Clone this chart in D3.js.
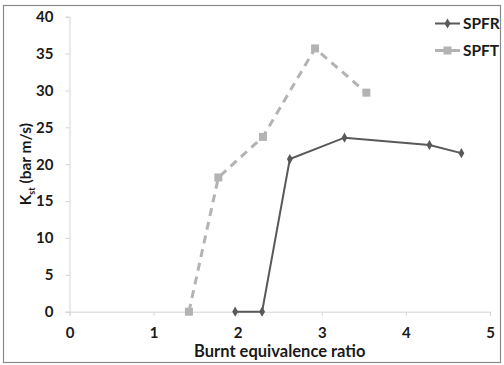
<!DOCTYPE html>
<html>
<head>
<meta charset="utf-8">
<script src="https://cdn.jsdelivr.net/npm/d3@7"></script>
<style>
  body { margin: 0; background: #fff; }
  svg { display: block; font-family: Lato, "Open Sans", sans-serif; }
</style>
</head>
<body>
<svg id="chart" width="504" height="365"></svg>
<script>
// ===== DATA =====
const spfrX = [1.97, 2.29, 2.62, 3.27, 4.28, 4.66];
const spfrY = [0, 0, 20.7, 23.6, 22.6, 21.5];
const spftX = [1.42, 1.77, 2.30, 2.92, 3.53];
const spftY = [0, 18.2, 23.7, 35.7, 29.7];
const xTicks = [0, 1, 2, 3, 4, 5];
const yTicks = [0, 5, 10, 15, 20, 25, 30, 35, 40];

const svg = d3.select('#chart');
const margin = { top: 17, right: 14, bottom: 53, left: 69.5 };

// outer frame
svg.append('rect')
    .attr('x', 3.5).attr('y', 5.5)
    .attr('width', 497).attr('height', 357)
    .attr('fill', 'none')
    .attr('stroke', '#8a8a8a')
    .attr('stroke-width', 1.2);

const x = d3.scaleLinear().domain([0, 5]).range([margin.left, 490]);
const y = d3.scaleLinear().domain([0, 40]).range([311.7, margin.top - 0.3]);

const axisColor = '#d4d4d4';

const xAxisG = svg.append('g')
    .attr('transform', `translate(0,${y(0)})`)
    .call(d3.axisBottom(x).tickValues(xTicks).tickSize(4).tickPadding(12).tickFormat(d3.format('d')));
const yAxisG = svg.append('g')
    .attr('transform', `translate(${x(0)},0)`)
    .call(d3.axisLeft(y).tickValues(yTicks).tickSize(4).tickPadding(12).tickFormat(d3.format('d')));

[xAxisG, yAxisG].forEach(g => {
    g.select('.domain').attr('stroke', axisColor).attr('stroke-width', 1);
    g.selectAll('.tick line').attr('stroke', axisColor);
    g.selectAll('.tick text')
        .attr('fill', '#1a1a1a')
        .style('font-size', '15px')
        .style('font-weight', '700')
        .style('font-family', 'Lato, "Open Sans", sans-serif');
});

// axis titles
svg.append('text')
    .attr('x', x(2.5))
    .attr('y', 356.5)
    .attr('text-anchor', 'middle')
    .attr('fill', '#1a1a1a')
    .style('font-size', '16.5px')
    .style('font-weight', '700')
    .text('Burnt equivalence ratio');

const yTitle = svg.append('text')
    .attr('transform', `translate(31,${y(20)}) rotate(-90)`)
    .attr('text-anchor', 'middle')
    .attr('fill', '#1a1a1a')
    .style('font-size', '15.5px')
    .style('font-weight', '700');
yTitle.append('tspan').text('K');
yTitle.append('tspan').attr('dy', 4).style('font-size', '9px').text('st');
yTitle.append('tspan').attr('dy', -4).text(' (bar m/s)');

// series
const spfr = spfrX.map((d, i) => [d, spfrY[i]]);
const spft = spftX.map((d, i) => [d, spftY[i]]);
const line = d3.line().x(d => x(d[0])).y(d => y(d[1]));

const spftColor = '#b3b3b3';
const spfrColor = '#595959';

svg.append('path')
    .attr('d', line(spft))
    .attr('fill', 'none')
    .attr('stroke', spftColor)
    .attr('stroke-width', 3)
    .attr('stroke-dasharray', '8,6');
svg.selectAll('.spft-pt')
    .data(spft)
    .join('rect')
    .attr('class', 'spft-pt')
    .attr('x', d => x(d[0]) - 4)
    .attr('y', d => y(d[1]) - 4)
    .attr('width', 8).attr('height', 8)
    .attr('fill', spftColor);

svg.append('path')
    .attr('d', line(spfr))
    .attr('fill', 'none')
    .attr('stroke', spfrColor)
    .attr('stroke-width', 2);
const diamond = d3.symbol().type(d3.symbolDiamond).size(30);
svg.selectAll('.spfr-pt')
    .data(spfr)
    .join('path')
    .attr('class', 'spfr-pt')
    .attr('transform', d => `translate(${x(d[0])},${y(d[1])})`)
    .attr('d', diamond)
    .attr('fill', spfrColor);

// legend
const legend = svg.append('g');
const items = [
    { name: 'SPFR', color: spfrColor, y: 23.5, square: false },
    { name: 'SPFT', color: spftColor, y: 50.5, square: true }
];
items.forEach(it => {
    legend.append('line')
        .attr('x1', 435).attr('x2', 460)
        .attr('y1', it.y).attr('y2', it.y)
        .attr('stroke', it.color)
        .attr('stroke-width', it.square ? 3 : 2);
    if (it.square) {
        legend.append('rect')
            .attr('x', 443.5).attr('y', it.y - 4)
            .attr('width', 8).attr('height', 8)
            .attr('fill', it.color);
    } else {
        legend.append('path')
            .attr('transform', `translate(447.5,${it.y})`)
            .attr('d', diamond)
            .attr('fill', it.color);
    }
    legend.append('text')
        .attr('x', 463).attr('y', it.y + 5.5)
        .attr('fill', '#1a1a1a')
        .style('font-size', '15.5px')
        .style('font-weight', '700')
        .text(it.name);
});
</script>
</body>
</html>
